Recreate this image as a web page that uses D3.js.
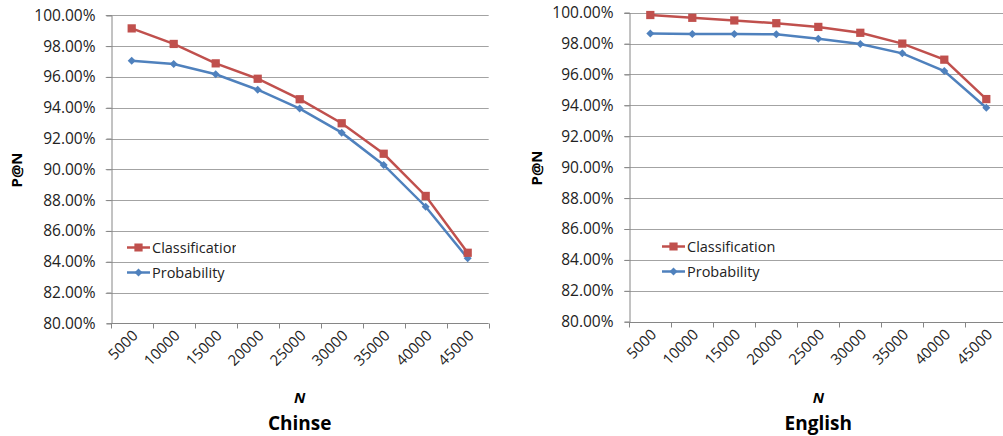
<!DOCTYPE html>
<html>
<head>
<meta charset="utf-8">
<script src="https://cdn.jsdelivr.net/npm/d3@7"></script>
<style>
  html, body { margin: 0; padding: 0; background: #fff; overflow: hidden; }
  svg { display: block; font-family: "Open Sans", Lato, sans-serif; }
</style>
</head>
<body>
<svg id="chart" width="1003" height="436"></svg>
<script>
// values (P@N in %)
const nValues = ["5000","10000","15000","20000","25000","30000","35000","40000","45000"];
const zhClassification = [99.15, 98.14, 96.88, 95.88, 94.55, 92.99, 91.01, 88.27, 84.58];
const zhProbability    = [97.05, 96.84, 96.17, 95.17, 93.94, 92.38, 90.28, 87.57, 84.22];
const enClassification = [99.85, 99.67, 99.50, 99.32, 99.08, 98.70, 98.00, 96.96, 94.41];
const enProbability    = [98.66, 98.62, 98.62, 98.60, 98.32, 97.97, 97.37, 96.22, 93.85];
const yTicks = [80, 82, 84, 86, 88, 90, 92, 94, 96, 98, 100];
const seriesNames = ["Classification", "Probability"];

const RED = "#C0504D", BLUE = "#4F81BD";
const svg = d3.select("#chart");

function drawPanel(opt) {
  const g = svg.append("g");
  const x = d3.scaleBand().domain(nValues).range([opt.x0, opt.x0 + 378]).padding(0);
  const y = d3.scaleLinear().domain([80, 100]).range([opt.yBottom, opt.yTop]);

  // gridlines (with the little tick stub left of the axis)
  g.append("g").selectAll("line").data(yTicks.filter(d => d > 80)).enter().append("line")
    .attr("x1", opt.x0 - 5).attr("x2", opt.x0 + 378)
    .attr("y1", d => Math.round(y(d)) + 0.5).attr("y2", d => Math.round(y(d)) + 0.5)
    .attr("stroke", "#a3a3a3").attr("stroke-width", 1);

  // y axis
  const yAxis = g.append("g").attr("transform", `translate(${Math.round(opt.x0) + 0.5},0)`)
    .call(d3.axisLeft(y).tickValues(yTicks).tickSize(5).tickPadding(11).tickFormat(d => d.toFixed(2) + "%"));
  yAxis.select(".domain").attr("stroke", "#868686");
  yAxis.selectAll(".tick line").attr("stroke", "#868686");
  yAxis.selectAll("text").attr("font-size", 15.5).attr("fill", "#222").attr("font-family", "Open Sans");

  // x axis: line + ticks at category boundaries
  const xa = g.append("g").attr("transform", `translate(0,${Math.round(opt.yBottom) + 0.5})`);
  xa.append("line").attr("x1", opt.x0).attr("x2", opt.x0 + 378).attr("stroke", "#868686");
  const bounds = nValues.map(d => x(d)).concat([x(nValues[nValues.length - 1]) + x.bandwidth()]);
  xa.selectAll("line.tk").data(bounds).enter().append("line").attr("class", "tk")
    .attr("x1", d => Math.round(d) + 0.5).attr("x2", d => Math.round(d) + 0.5)
    .attr("y1", 0).attr("y2", 5).attr("stroke", "#868686");
  xa.selectAll("text").data(nValues).enter().append("text")
    .attr("transform", d => `translate(${x(d) + x.bandwidth() / 2 + 7},${13}) rotate(-45)`)
    .attr("text-anchor", "end").attr("font-size", 15).attr("fill", "#222")
    .text(d => d);

  // series
  const series = [
    { name: seriesNames[0], values: opt.cls, color: RED, shape: d3.symbolSquare, size: 68, rot: 0 },
    { name: seriesNames[1], values: opt.prob, color: BLUE, shape: d3.symbolSquare, size: 32, rot: 45 }
  ];
  const line = d3.line().x((d, i) => x(nValues[i]) + x.bandwidth() / 2).y(d => y(d));
  series.slice().reverse().forEach(s => {
    g.append("path").datum(s.values).attr("d", line)
      .attr("fill", "none").attr("stroke", s.color).attr("stroke-width", 2.5);
    g.append("g").selectAll("path").data(s.values).enter().append("path")
      .attr("d", d3.symbol().type(s.shape).size(s.size))
      .attr("transform", (d, i) => `translate(${x(nValues[i]) + x.bandwidth() / 2},${y(d)}) rotate(${s.rot})`)
      .attr("fill", s.color);
  });

  // legend
  const clipId = "clip" + opt.id;
  svg.append("clipPath").attr("id", clipId).append("rect")
    .attr("x", opt.legX - 5).attr("y", opt.legY - 20).attr("width", opt.legW).attr("height", 60);
  const lg = g.append("g").attr("clip-path", `url(#${clipId})`);
  series.forEach((s, i) => {
    const ly = opt.legY + i * 25;
    lg.append("line").attr("x1", opt.legX).attr("x2", opt.legX + 23).attr("y1", ly).attr("y2", ly)
      .attr("stroke", s.color).attr("stroke-width", 2.5);
    lg.append("path").attr("d", d3.symbol().type(s.shape).size(s.size))
      .attr("transform", `translate(${opt.legX + 11.5},${ly}) rotate(${s.rot})`).attr("fill", s.color);
    lg.append("text").attr("x", opt.legX + 25).attr("y", ly + 5).attr("font-size", 14.5)
      .attr("fill", "#222").text(s.name);
  });

  // titles
  const cx = opt.x0 + 189;
  g.append("text").attr("x", cx).attr("y", 403).attr("text-anchor", "middle")
    .attr("font-size", 15).attr("font-weight", "bold").attr("font-style", "italic").text("N");
  g.append("text").attr("x", cx).attr("y", 430).attr("text-anchor", "middle")
    .attr("font-size", 19).attr("font-weight", "bold").text(opt.title);
  g.append("text").attr("transform", `translate(${opt.yLabX},${opt.yLabY}) rotate(-90)`)
    .attr("text-anchor", "middle").attr("font-size", 15).attr("font-weight", "bold").text("P@N");
}

drawPanel({ id: "zh", title: "Chinse", x0: 110.7, yTop: 15.3, yBottom: 323.3,
  cls: zhClassification, prob: zhProbability, legX: 127, legY: 247.5, legW: 114, yLabX: 22, yLabY: 170 });
drawPanel({ id: "en", title: "English", x0: 629.3, yTop: 12.7, yBottom: 321.7,
  cls: enClassification, prob: enProbability, legX: 662, legY: 246.5, legW: 160, yLabX: 542, yLabY: 168 });
</script>
</body>
</html>
